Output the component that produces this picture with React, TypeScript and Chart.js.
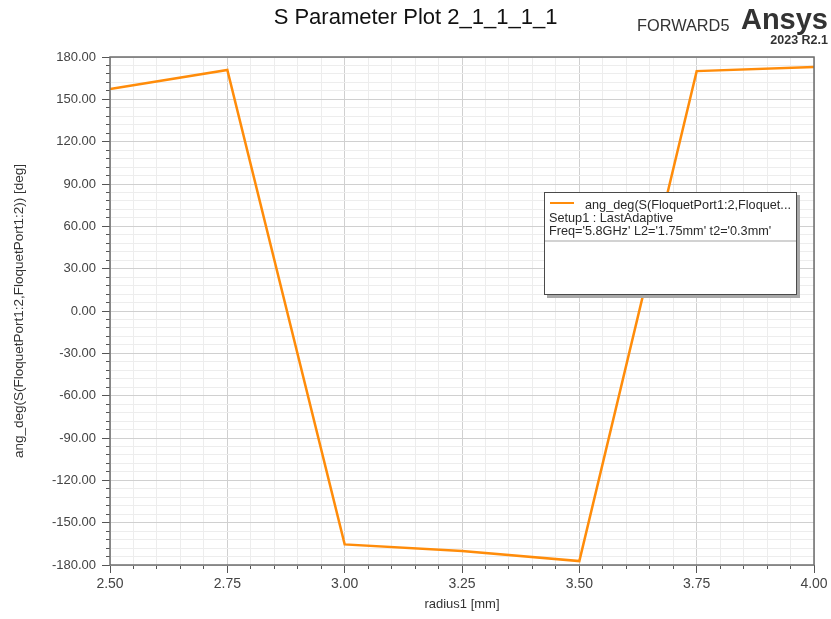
import React, { useEffect, useRef } from "react";
import { Chart, registerables } from "chart.js";

Chart.register(...registerables);

// ---- data ----
const radiusMm = [2.5, 2.75, 3.0, 3.25, 3.5, 3.75, 4.0];
const angDeg = [157.3, 170.8, -165.4, -170.1, -177.2, 170.0, 172.9];

const xMin = 2.5;
const xMax = 4.0;
const xMajorStep = 0.25;
const xMinorStep = 0.05;
const yMin = -180;
const yMax = 180;
const yMajorStep = 30;
const yMinorStep = 6;

const titleText = "S Parameter Plot 2_1_1_1_1";
const xTitle = "radius1 [mm]";
const yTitle = "ang_deg(S(FloquetPort1:2,FloquetPort1:2)) [deg]";
const legendLines = [
  "ang_deg(S(FloquetPort1:2,Floquet...",
  "Setup1 : LastAdaptive",
  "Freq='5.8GHz' L2='1.75mm' t2='0.3mm'",
];

const ORANGE = "#ff8c0a";
const FONT = "'Liberation Sans', Arial, sans-serif";

const frameBorder = {
  id: "frameBorder",
  afterDraw(chart: any) {
    const { ctx, chartArea } = chart;
    ctx.save();
    ctx.strokeStyle = "#6e6e6e";
    ctx.lineWidth = 1.5;
    ctx.strokeRect(
      chartArea.left,
      chartArea.top,
      chartArea.right - chartArea.left,
      chartArea.bottom - chartArea.top
    );
    ctx.restore();
  },
};

export default function App() {
  const ref = useRef<HTMLCanvasElement | null>(null);

  useEffect(() => {
    if (!ref.current) return;
    const chart = new Chart(ref.current, {
      type: "line",
      data: {
        datasets: [
          {
            label: legendLines[0],
            data: radiusMm.map((x, i) => ({ x, y: angDeg[i] })),
            borderColor: ORANGE,
            backgroundColor: ORANGE,
            borderWidth: 2.5,
            pointRadius: 0,
            tension: 0,
            xAxisID: "x",
            yAxisID: "y",
          },
        ],
      },
      options: {
        animation: false,
        responsive: false,
        maintainAspectRatio: false,
        layout: { padding: { left: 0, top: 57, right: 17, bottom: 0 } },
        plugins: {
          legend: { display: false },
          title: { display: false },
          tooltip: { enabled: false },
        },
        scales: {
          xMinor: {
            type: "linear",
            position: "bottom",
            weight: 0,
            z: -1,
            min: xMin,
            max: xMax,
            ticks: { display: false, stepSize: xMinorStep, autoSkip: false },
            grid: {
              color: "#ededed",
              lineWidth: 1,
              tickLength: 4,
              tickColor: "#555",
              drawTicks: true,
            },
            border: { display: false },
            afterFit(s: any) {
              s.height = 0;
            },
          },
          x: {
            type: "linear",
            position: "bottom",
            weight: 1,
            min: xMin,
            max: xMax,
            ticks: {
              stepSize: xMajorStep,
              autoSkip: false,
              maxRotation: 0,
              padding: 3,
              color: "#444",
              font: { family: FONT, size: 14 },
              callback: (v: any) => Number(v).toFixed(2),
            },
            grid: {
              color: "#d0d0d0",
              lineWidth: 1,
              tickLength: 8,
              tickColor: "#555",
            },
            border: { display: false },
            title: {
              display: true,
              text: xTitle,
              color: "#333",
              font: { family: FONT, size: 13 },
              padding: { top: 0, bottom: 7 },
            },
            afterFit(s: any) {
              s.height = 54;
            },
          },
          yMinor: {
            type: "linear",
            position: "left",
            weight: 0,
            z: -1,
            min: yMin,
            max: yMax,
            ticks: { display: false, stepSize: yMinorStep, autoSkip: false },
            grid: {
              color: "#ededed",
              lineWidth: 1,
              tickLength: 4,
              tickColor: "#555",
              drawTicks: true,
            },
            border: { display: false },
            afterFit(s: any) {
              s.width = 0;
            },
          },
          y: {
            type: "linear",
            position: "left",
            weight: 1,
            min: yMin,
            max: yMax,
            ticks: {
              stepSize: yMajorStep,
              autoSkip: false,
              padding: 6,
              color: "#444",
              font: { family: FONT, size: 13 },
              callback: (v: any) => Number(v).toFixed(2),
            },
            grid: {
              color: "#d0d0d0",
              lineWidth: 1,
              tickLength: 8,
              tickColor: "#555",
            },
            border: { display: false },
            title: {
              display: true,
              text: yTitle,
              color: "#333",
              font: { family: FONT, size: 13.5 },
              padding: { top: 11, bottom: 0 },
            },
            afterFit(s: any) {
              s.width = 110;
            },
          },
        },
      } as any,
      plugins: [frameBorder],
    });
    return () => chart.destroy();
  }, []);

  return (
    <div
      style={{
        position: "fixed",
        left: 0,
        top: 0,
        width: 831,
        height: 619,
        background: "#fff",
        fontFamily: FONT,
        overflow: "hidden",
      }}
    >
      <canvas
        ref={ref}
        width={831}
        height={619}
        style={{ position: "absolute", left: 0, top: 0, width: 831, height: 619 }}
      />
      <div
        style={{
          position: "absolute",
          left: 0,
          top: 6,
          width: 831,
          textAlign: "center",
          fontSize: 22,
          lineHeight: "22px",
          color: "#111",
          whiteSpace: "nowrap",
        }}
      >
        {titleText}
      </div>
      <div
        style={{
          position: "absolute",
          left: 637,
          top: 17,
          fontSize: 17,
          lineHeight: "17px",
          color: "#333",
          whiteSpace: "nowrap",
          transform: "scaleX(0.96)",
          transformOrigin: "left top",
        }}
      >
        FORWARD5
      </div>
      <div
        style={{
          position: "absolute",
          right: 3,
          top: 5,
          fontSize: 29,
          lineHeight: "29px",
          fontWeight: "bold",
          color: "#333",
          whiteSpace: "nowrap",
        }}
      >
        Ansys
      </div>
      <div
        style={{
          position: "absolute",
          right: 3,
          top: 34,
          fontSize: 12.5,
          lineHeight: "12.5px",
          fontWeight: "bold",
          color: "#333",
          whiteSpace: "nowrap",
        }}
      >
        2023 R2.1
      </div>
      <div
        style={{
          position: "absolute",
          left: 544,
          top: 192,
          width: 251,
          height: 101,
          border: "1px solid #4a4a4a",
          background: "#fff",
          boxShadow: "3px 3px 0 #a8a8a8",
          fontSize: 12.7,
          color: "#2a2a2a",
        }}
      >
        <div
          style={{
            position: "absolute",
            left: 5,
            top: 9,
            width: 24,
            height: 2,
            background: ORANGE,
          }}
        />
        <div
          style={{
            position: "absolute",
            left: 40,
            top: 6,
            lineHeight: "13px",
            whiteSpace: "nowrap",
          }}
        >
          {legendLines[0]}
        </div>
        <div
          style={{
            position: "absolute",
            left: 4,
            top: 19,
            lineHeight: "13px",
            whiteSpace: "nowrap",
          }}
        >
          {legendLines[1]}
        </div>
        <div
          style={{
            position: "absolute",
            left: 4,
            top: 32,
            lineHeight: "13px",
            whiteSpace: "nowrap",
          }}
        >
          {legendLines[2]}
        </div>
        <div
          style={{
            position: "absolute",
            left: 0,
            right: 0,
            top: 47,
            height: 2,
            background: "#d2d2d2",
          }}
        />
      </div>
    </div>
  );
}
